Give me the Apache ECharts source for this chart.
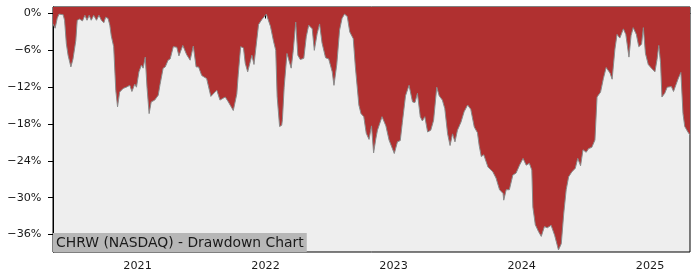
<!DOCTYPE html>
<html>
<head>
<meta charset="utf-8">
<script src="https://cdn.jsdelivr.net/npm/echarts@6/dist/echarts.min.js"></script>
<style>html,body{margin:0;padding:0;background:#fff}#c{width:700px;height:280px}</style>
</head>
<body>
<div id="c"></div>
<script>
const dates = [
'2020-05-05','2020-05-11','2020-05-17','2020-05-22','2020-06-03','2020-06-07','2020-06-12','2020-06-17','2020-06-25','2020-07-01',
'2020-07-09','2020-07-13','2020-07-20','2020-07-28','2020-08-04','2020-08-10','2020-08-16','2020-08-22','2020-08-29','2020-09-06',
'2020-09-13','2020-09-20','2020-09-27','2020-10-02','2020-10-09','2020-10-14','2020-10-18','2020-10-25','2020-10-31','2020-11-05',
'2020-11-11','2020-11-21','2020-11-30','2020-12-10','2020-12-16','2020-12-24','2020-12-29','2021-01-05','2021-01-12','2021-01-17',
'2021-01-23','2021-01-28','2021-02-03','2021-02-09','2021-02-19','2021-03-01','2021-03-06','2021-03-15','2021-03-21','2021-03-29',
'2021-04-04','2021-04-13','2021-04-23','2021-04-29','2021-05-10','2021-05-21','2021-05-31','2021-06-09','2021-06-17','2021-06-24',
'2021-07-03','2021-07-17','2021-07-21','2021-07-29','2021-08-15','2021-08-24','2021-09-08','2021-09-17','2021-09-22','2021-10-01',
'2021-10-11','2021-10-15','2021-10-22','2021-10-30','2021-11-04','2021-11-11','2021-11-23','2021-11-29','2021-12-12','2021-12-21',
'2021-12-26','2022-01-03','2022-01-05','2022-01-15','2022-01-24','2022-01-30','2022-02-03','2022-02-10','2022-02-16','2022-02-18',
'2022-02-23','2022-03-03','2022-03-08','2022-03-15','2022-03-21','2022-03-28','2022-04-03','2022-04-10','2022-04-20','2022-04-27',
'2022-05-04','2022-05-08','2022-05-14','2022-05-20','2022-05-28','2022-06-04','2022-06-11','2022-06-21','2022-06-30','2022-07-10',
'2022-07-15','2022-07-23','2022-07-31','2022-08-07','2022-08-14','2022-08-22','2022-08-29','2022-09-08','2022-09-14','2022-09-24',
'2022-09-30','2022-10-08','2022-10-15','2022-10-23','2022-10-30','2022-11-05','2022-11-11','2022-11-16','2022-11-29','2022-12-10',
'2022-12-19','2023-01-03','2023-01-12','2023-01-20','2023-01-26','2023-02-04','2023-02-14','2023-02-24','2023-03-03','2023-03-10',
'2023-03-18','2023-03-24','2023-03-31','2023-04-08','2023-04-17','2023-04-25','2023-05-04','2023-05-11','2023-05-20','2023-05-27',
'2023-06-04','2023-06-11','2023-06-18','2023-06-25','2023-07-02','2023-07-12','2023-07-21','2023-07-31','2023-08-09','2023-08-19',
'2023-08-28','2023-09-02','2023-09-08','2023-09-15','2023-09-27','2023-10-11','2023-10-20','2023-10-30','2023-11-09','2023-11-11',
'2023-11-18','2023-11-27','2023-12-07','2023-12-16','2023-12-26','2024-01-05','2024-01-14','2024-01-23','2024-01-30','2024-02-02',
'2024-02-09','2024-02-18','2024-02-26','2024-03-06','2024-03-14','2024-03-25','2024-04-04','2024-04-15','2024-04-23','2024-04-30',
'2024-05-07','2024-05-14','2024-05-23','2024-06-02','2024-06-09','2024-06-17','2024-06-24','2024-07-03','2024-07-10','2024-07-19',
'2024-07-28','2024-08-03','2024-08-13','2024-08-21','2024-08-29','2024-09-09','2024-09-15','2024-09-23','2024-09-29','2024-10-07',
'2024-10-17','2024-10-24','2024-11-02','2024-11-08','2024-11-14','2024-11-23','2024-11-30','2024-12-08','2024-12-13','2024-12-19',
'2024-12-27','2025-01-05','2025-01-15','2025-01-21','2025-01-26','2025-01-31','2025-02-04','2025-02-12','2025-02-19','2025-03-03',
'2025-03-09','2025-03-16','2025-03-23','2025-03-30','2025-04-05','2025-04-10','2025-04-19','2025-04-25'
];
const drawdown = [
-1.7,-2.4,-0.8,-0.1,-0.2,-1.1,-4.9,-6.8,-8.7,-7.4,
-4.4,-1.1,-0.9,-1.2,-0.3,-1.1,-0.3,-1.1,-0.3,-1.1,
-0.3,-1.1,-1.5,-0.6,-0.8,-1.9,-3.6,-5.4,-12.5,-15.2,
-12.8,-12.2,-12.0,-11.7,-12.7,-11.5,-12.0,-9.5,-8.4,-8.9,
-7.1,-12.0,-16.3,-14.4,-14.1,-13.3,-11.6,-8.9,-8.7,-7.6,
-7.4,-5.4,-5.5,-6.9,-5.2,-6.7,-7.6,-5.3,-8.7,-8.7,
-10.1,-10.6,-10.8,-13.5,-12.5,-14.1,-13.6,-14.4,-14.7,-15.8,
-13.1,-10.0,-5.4,-5.6,-8.1,-9.5,-6.8,-8.3,-1.8,-1.0,
-1.2,-0.1,0,-2.1,-4.6,-6.0,-13.5,-18.4,-18.2,-17.3,
-12.0,-6.5,-6.8,-8.9,-6.0,-1.4,-6.8,-7.5,-7.3,-3.8,
-1.9,-1.9,-2.5,-6.0,-3.3,-1.7,-4.8,-7.2,-7.4,-9.5,
-11.7,-8.3,-2.7,-0.8,-0.1,-0.5,-3.0,-4.1,-8.7,-14.9,
-16.3,-16.8,-19.5,-20.5,-18.3,-22.7,-20.5,-19.0,-16.8,-18.3,
-20.6,-22.8,-20.9,-20.7,-17.7,-13.4,-11.7,-14.4,-14.5,-13.0,
-16.8,-17.5,-16.8,-19.3,-19.0,-17.4,-12.0,-13.4,-14.1,-15.5,
-19.6,-21.5,-19.6,-20.9,-19.0,-17.7,-16.0,-14.9,-15.6,-18.5,
-19.4,-21.5,-23.3,-23.0,-25.0,-25.8,-26.8,-28.7,-29.3,-30.4,
-28.7,-28.7,-26.3,-26.0,-24.7,-23.6,-24.7,-24.4,-25.5,-31.5,
-34.4,-35.5,-36.3,-34.7,-34.9,-34.5,-36.1,-38.5,-37.5,-32.6,
-28.7,-26.6,-25.8,-25.2,-23.6,-24.8,-22.2,-22.6,-22.0,-21.8,
-20.6,-13.6,-12.8,-10.6,-8.8,-9.7,-10.7,-5.8,-3.4,-4.0,
-2.5,-3.4,-7.1,-3.6,-2.3,-3.4,-5.4,-5.0,-2.3,-6.5,
-8.3,-8.9,-9.5,-7.5,-5.2,-8.0,-13.6,-13.0,-12.0,-11.9,
-12.7,-11.6,-10.5,-9.6,-16.3,-18.4,-19.3,-19.8
];
const yTicks = [0, -6, -12, -18, -24, -30, -36];
const xRange = ['2020-05-05', '2025-04-25'];
const yRange = [-38.84, 1.06];
const titleText = 'CHRW (NASDAQ) - Drawdown Chart';

function toTime(s) {
  const p = s.split('-').map(Number);
  return new Date(p[0], p[1] - 1, p[2]).getTime();
}
const YEAR_MS = 365 * 24 * 3600 * 1000;
const seriesData = dates.map((d, i) => [toTime(d), drawdown[i]]);

const chart = echarts.init(document.getElementById('c'), null, { renderer: 'canvas' });
chart.setOption({
  animation: false,
  title: {
    text: titleText,
    left: 53,
    top: 233,
    padding: [2, 3, 1, 3],
    backgroundColor: '#b7b7b7',
    textStyle: { fontFamily: 'DejaVu Sans', fontSize: 13.9, fontWeight: 'normal', color: '#1a1a1a', lineHeight: 16 }
  },
  grid: { left: 53, right: 10, top: 7, bottom: 28, show: true, backgroundColor: '#eeeeee', borderColor: '#000', borderWidth: 1 },
  xAxis: {
    type: 'time',
    min: toTime(xRange[0]),
    max: toTime(xRange[1]),
    minInterval: YEAR_MS,
    maxInterval: YEAR_MS * 1.01,
    axisLine: { show: true, lineStyle: { color: '#000', width: 1 } },
    axisTick: { show: true, length: 5, lineStyle: { color: '#000' } },
    axisLabel: {
      formatter: '{yyyy}',
      showMinLabel: false,
      showMaxLabel: false,
      color: '#1a1a1a', fontFamily: 'DejaVu Sans', fontSize: 11.2, margin: 9
    },
    splitLine: { show: false }
  },
  yAxis: {
    type: 'value',
    min: yRange[0],
    max: yRange[1],
    axisLine: { show: true, lineStyle: { color: '#000', width: 1 } },
    axisTick: { show: true, customValues: yTicks, length: 5, lineStyle: { color: '#000' } },
    axisLabel: {
      customValues: yTicks,
      formatter: v => (v < 0 ? '\u2212' : '') + Math.abs(v) + '%',
      color: '#1a1a1a', fontFamily: 'DejaVu Sans', fontSize: 11.2, margin: 11.5
    },
    splitLine: { show: false }
  },
  series: [{
    type: 'line',
    data: seriesData,
    symbol: 'none',
    showSymbol: false,
    lineStyle: { color: '#8a8a8a', width: 1 },
    areaStyle: { color: '#b03030', opacity: 1, origin: 'end' },
    clip: true
  }]
});
</script>
</body>
</html>
